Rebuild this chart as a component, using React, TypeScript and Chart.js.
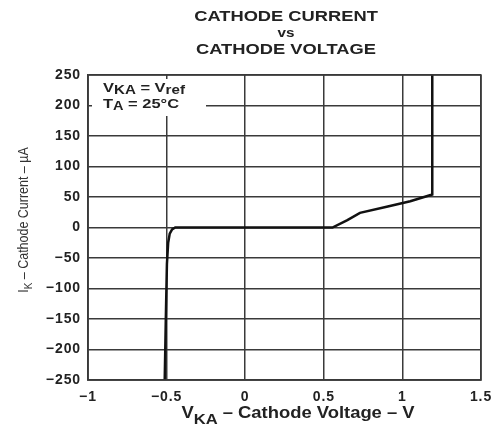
import React, { useEffect, useRef } from "react";
import { Chart, registerables } from "chart.js";

Chart.register(...registerables);

const voltage = [-0.512, -0.505, -0.498, -0.49, -0.48, -0.465, -0.445, 0.0, 0.3, 0.555, 0.65, 0.73, 0.9, 1.05, 1.19, 1.19];
const current = [-250, -150, -60, -25, -10, -3, 0, 0, 0, 0, 12, 24, 34, 43, 54, 250];
const xTicks = [-1, -0.5, 0, 0.5, 1, 1.5];
const yTicks = [250, 200, 150, 100, 50, 0, -50, -100, -150, -200, -250];
const titleLines = ["CATHODE CURRENT", "vs", "CATHODE VOLTAGE"];

const FONT = "'Liberation Sans', Arial, sans-serif";

type Part = [string, boolean];

function drawSub(
  ctx: CanvasRenderingContext2D,
  parts: Part[],
  x: number,
  y: number,
  size: number,
  weight: string,
  align: "left" | "center",
  sx: number,
  subScale = 0.85,
  subDrop = 0.3
) {
  const fontFor = (s: boolean) => `${weight} ${s ? size * subScale : size}px ${FONT}`;
  let total = 0;
  parts.forEach(([t, s]) => {
    ctx.font = fontFor(s);
    total += ctx.measureText(t).width;
  });
  ctx.save();
  ctx.translate(x, y);
  ctx.scale(sx, 1);
  let cx = align === "center" ? -total / 2 : 0;
  ctx.textAlign = "left";
  ctx.textBaseline = "alphabetic";
  parts.forEach(([t, s]) => {
    ctx.font = fontFor(s);
    ctx.fillText(t, cx, s ? size * subDrop : 0);
    cx += ctx.measureText(t).width;
  });
  ctx.restore();
}

const annotations = {
  id: "annotations",
  afterDatasetsDraw(chart: any) {
    const ctx = chart.ctx as CanvasRenderingContext2D;
    const a = chart.chartArea;
    ctx.save();
    (ctx as any).letterSpacing = "0px";
    ctx.fillStyle = "#222";
    // title
    const tx = 286;
    titleLines.forEach((t, i) => {
      const size = i === 1 ? 12.5 : 15;
      drawSub(ctx, [[t, false]], tx, 21 + i * 16.3, size, "bold", "center", 1.22);
    });
    // x axis title
    drawSub(ctx, [["V", false], ["KA", true], [" \u2013 Cathode Voltage \u2013 V", false]], 298, 418, 16, "bold", "center", 1.15, 0.9, 0.35);
    // y axis title
    ctx.save();
    ctx.translate(28, 220);
    ctx.rotate(-Math.PI / 2);
    ctx.fillStyle = "#333";
    drawSub(ctx, [["I", false], ["K", true], [" \u2013 Cathode Current \u2013 \u00b5A", false]], 0, 0, 14.5, "normal", "center", 0.86, 0.8, 0.3);
    ctx.restore();
    // legend box
    ctx.fillStyle = "#fff";
    ctx.fillRect(a.left + 4, a.top + 4, 114, 37);
    ctx.fillStyle = "#222";
    drawSub(ctx, [["V", false], ["KA", true], [" = V", false], ["ref", true]], a.left + 15, a.top + 17, 13.5, "bold", "left", 1.22, 0.92, 0.18);
    drawSub(ctx, [["T", false], ["A", true], [" = 25\u00b0C", false]], a.left + 15, a.top + 33, 13.5, "bold", "left", 1.22, 0.88, 0.18);
    ctx.restore();
  },
};

const spacing = {
  id: "spacing",
  beforeDraw(chart: any) {
    (chart.ctx as any).letterSpacing = "0.9px";
  },
};

export default function App() {
  const ref = useRef<HTMLCanvasElement>(null);
  useEffect(() => {
    document.body.style.margin = "0";
    const data = voltage.map((v, i) => ({ x: v, y: current[i] }));
    const minus = (v: any) => String(v).replace("-", "\u2212");
    const chart = new Chart(ref.current!, {
      type: "scatter",
      data: {
        datasets: [
          {
            data,
            showLine: true,
            borderColor: "#111",
            borderWidth: 2.5,
            pointRadius: 0,
            tension: 0,
          },
        ],
      },
      options: {
        responsive: false,
        animation: false,
        layout: { padding: { top: 75, right: 19, left: 0, bottom: 0 } },
        plugins: { legend: { display: false }, tooltip: { enabled: false } },
        scales: {
          x: {
            type: "linear",
            min: -1,
            max: 1.5,
            afterBuildTicks: (s: any) => {
              s.ticks = xTicks.map((v) => ({ value: v }));
            },
            afterFit: (s: any) => {
              s.height = 45;
            },
            grid: { color: "#3a3a3a", lineWidth: 1.5, drawTicks: false },
            border: { color: "#3a3a3a", width: 1.5 },
            ticks: {
              padding: 9,
              color: "#222",
              font: { family: FONT, size: 14, weight: "bold" },
              callback: minus,
            },
          },
          y: {
            type: "linear",
            min: -250,
            max: 250,
            afterBuildTicks: (s: any) => {
              s.ticks = yTicks.map((v) => ({ value: v }));
            },
            afterFit: (s: any) => {
              s.width = 88;
            },
            grid: { color: "#3a3a3a", lineWidth: 1.5, drawTicks: false },
            border: { color: "#3a3a3a", width: 1.5 },
            ticks: {
              padding: 7,
              color: "#222",
              font: { family: FONT, size: 14, weight: "bold" },
              callback: minus,
            },
          },
        },
      },
      plugins: [
        spacing,
        annotations,
        {
          id: "frame",
          afterDraw(chart: any) {
            const a = chart.chartArea;
            const ctx = chart.ctx;
            ctx.save();
            ctx.strokeStyle = "#3a3a3a";
            ctx.lineWidth = 1.5;
            ctx.strokeRect(a.left, a.top, a.right - a.left, a.bottom - a.top);
            ctx.restore();
          },
        },
      ],
    } as any);
    return () => chart.destroy();
  }, []);
  return (
    <div style={{ width: 500, height: 425, background: "#fff" }}>
      <canvas ref={ref} width={500} height={425} />
    </div>
  );
}
